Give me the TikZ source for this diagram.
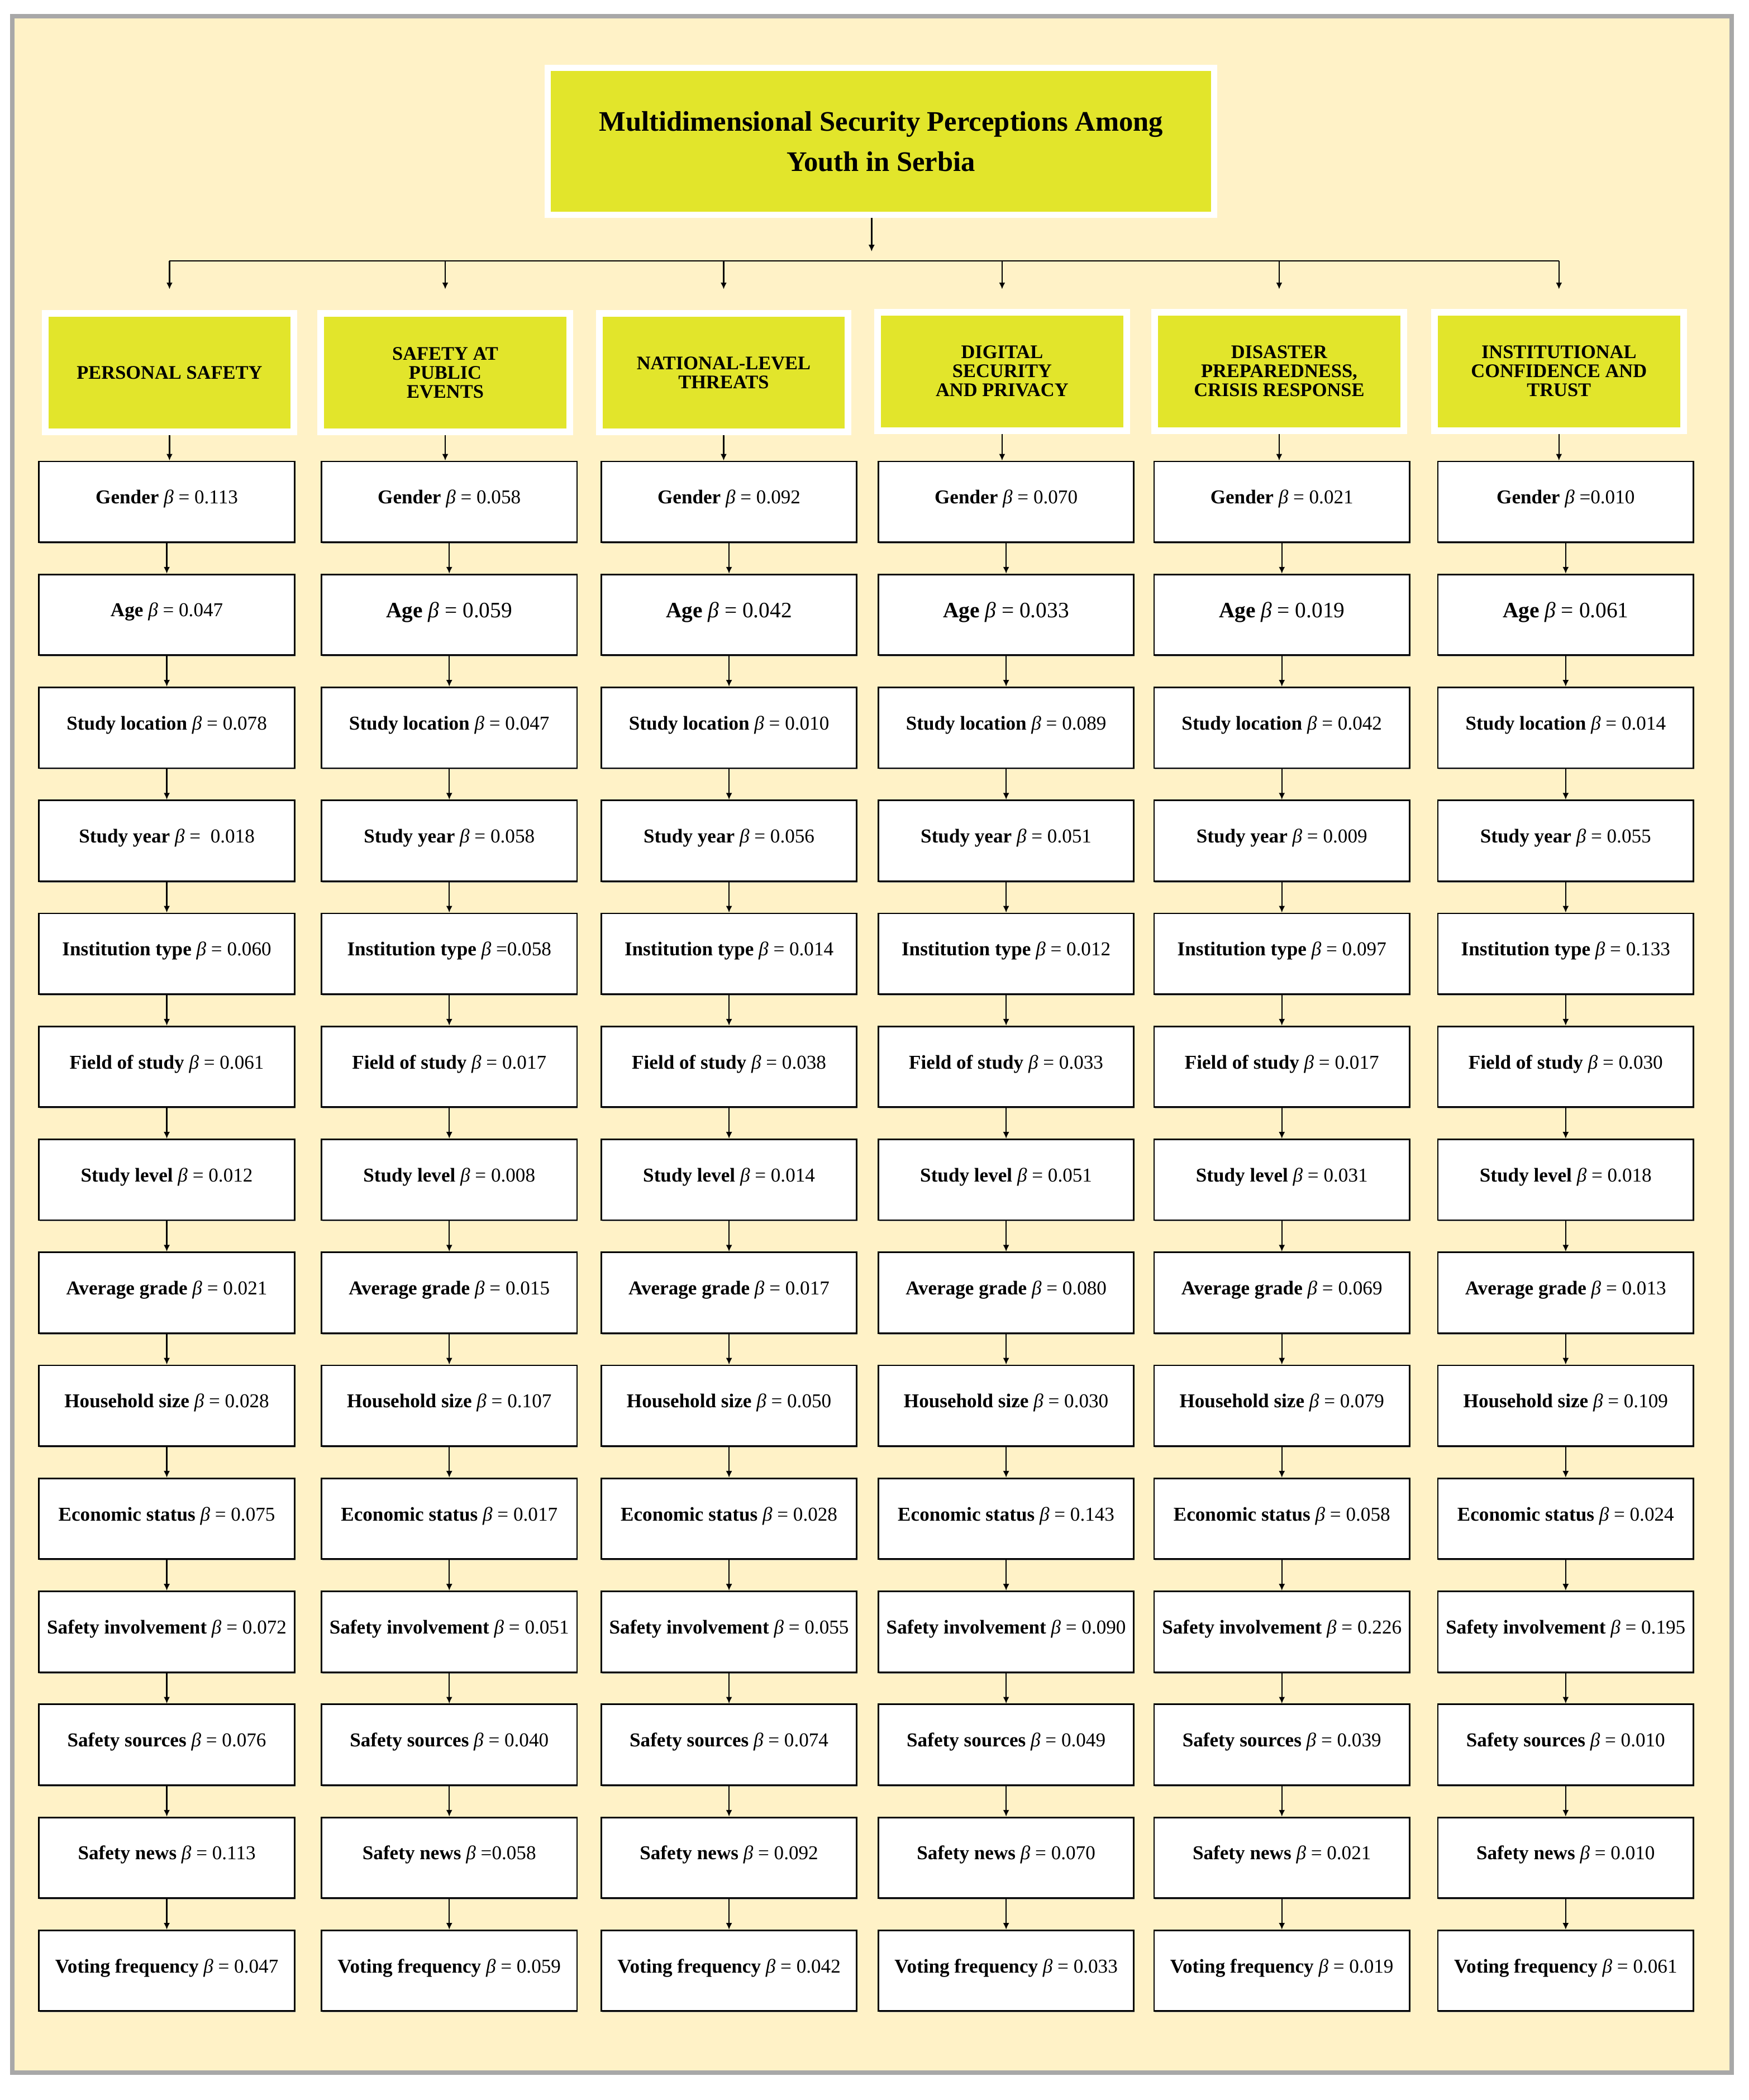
\documentclass[tikz,border=0pt]{standalone}
\usepackage{fontspec}
\setmainfont{Liberation Serif}
\usetikzlibrary{arrows.meta,shadows}
\definecolor{cream}{RGB}{255,242,199}
\definecolor{lime}{RGB}{226,229,43}
\definecolor{framegray}{RGB}{168,168,168}
\newcommand{\bv}[2]{\textbf{#1} \textit{β} #2}
\begin{document}
\begin{tikzpicture}[x=.02408cm, y=-.02408cm,
	arr/.style={-{Latex[length=3.4pt,width=3.2pt]}, line width=.7pt},
	factor/.style={draw=black, line width=.8pt, fill=white, minimum width=4.575cm, minimum height=1.445cm, inner sep=0pt,
		text height=7pt, text depth=5pt,
		font=\fontsize{10}{12}\selectfont, drop shadow={shadow xshift=.4pt, shadow yshift=-.7pt, fill=black!40, opacity=1}},
	bigger/.style={font=\fontsize{11.2}{13}\selectfont, text height=8pt},
	dimbox/.style={draw=white, line width=3.4pt, fill=lime, minimum width=4.455cm, minimum height=2.119cm, inner sep=0pt,
		align=center, font=\fontsize{9.8}{9.7}\selectfont\bfseries},
	titlebox/.style={draw=white, line width=3.1pt, fill=lime, minimum width=11.93cm, minimum height=2.625cm, inner sep=0pt,
		align=center, font=\fontsize{14.4}{20.5}\selectfont\bfseries}]
	\useasboundingbox (0,0) rectangle (1300.25,1561.1);
	\draw[framegray, line width=2.2pt, fill=cream] (9,12) rectangle (1287.4,1540.7);

	% title and the six dimensions
	\node[titlebox] (title) at (655,105) {Multidimensional Security Perceptions Among\\Youth in Serbia};
	\coordinate (bus) at (648,194);
	\coordinate (top) at (0,215);
	\node[dimbox] (ps) at (126,277) {PERSONAL SAFETY};
	\node[dimbox] (pe) at (331,277) {SAFETY AT\\PUBLIC\\EVENTS};
	\node[dimbox] (nt) at (538,277) {NATIONAL-LEVEL\\THREATS};
	\node[dimbox] (ds) at (745,276) {DIGITAL\\SECURITY\\AND PRIVACY};
	\node[dimbox] (dp) at (951,276) {DISASTER\\PREPAREDNESS,\\CRISIS RESPONSE};
	\node[dimbox] (ic) at (1159,276) {INSTITUTIONAL\\CONFIDENCE AND\\TRUST};

	% personal safety
	\node[factor] (ps1)  at (124,373)  {\bv{Gender}{= 0.113}};
	\node[factor] (ps2)  at (124,457)  {\bv{Age}{= 0.047}};
	\node[factor] (ps3)  at (124,541)  {\bv{Study location}{= 0.078}};
	\node[factor] (ps4)  at (124,625)  {\bv{Study year}{= ~0.018}};
	\node[factor] (ps5)  at (124,709)  {\bv{Institution type}{= 0.060}};
	\node[factor] (ps6)  at (124,793)  {\bv{Field of study}{= 0.061}};
	\node[factor] (ps7)  at (124,877)  {\bv{Study level}{= 0.012}};
	\node[factor] (ps8)  at (124,961)  {\bv{Average grade}{= 0.021}};
	\node[factor] (ps9)  at (124,1045) {\bv{Household size}{= 0.028}};
	\node[factor] (ps10) at (124,1129) {\bv{Economic status}{= 0.075}};
	\node[factor] (ps11) at (124,1213) {\bv{Safety involvement}{= 0.072}};
	\node[factor] (ps12) at (124,1297) {\bv{Safety sources}{= 0.076}};
	\node[factor] (ps13) at (124,1381) {\bv{Safety news}{= 0.113}};
	\node[factor] (ps14) at (124,1465) {\bv{Voting frequency}{= 0.047}};

	% safety at public events
	\node[factor] (pe1)  at (334,373)  {\bv{Gender}{= 0.058}};
	\node[factor, bigger] (pe2)  at (334,457)  {\bv{Age}{= 0.059}};
	\node[factor] (pe3)  at (334,541)  {\bv{Study location}{= 0.047}};
	\node[factor] (pe4)  at (334,625)  {\bv{Study year}{= 0.058}};
	\node[factor] (pe5)  at (334,709)  {\bv{Institution type}{=0.058}};
	\node[factor] (pe6)  at (334,793)  {\bv{Field of study}{= 0.017}};
	\node[factor] (pe7)  at (334,877)  {\bv{Study level}{= 0.008}};
	\node[factor] (pe8)  at (334,961)  {\bv{Average grade}{= 0.015}};
	\node[factor] (pe9)  at (334,1045) {\bv{Household size}{= 0.107}};
	\node[factor] (pe10) at (334,1129) {\bv{Economic status}{= 0.017}};
	\node[factor] (pe11) at (334,1213) {\bv{Safety involvement}{= 0.051}};
	\node[factor] (pe12) at (334,1297) {\bv{Safety sources}{= 0.040}};
	\node[factor] (pe13) at (334,1381) {\bv{Safety news}{=0.058}};
	\node[factor] (pe14) at (334,1465) {\bv{Voting frequency}{= 0.059}};

	% national-level threats
	\node[factor] (nt1)  at (542,373)  {\bv{Gender}{= 0.092}};
	\node[factor, bigger] (nt2)  at (542,457)  {\bv{Age}{= 0.042}};
	\node[factor] (nt3)  at (542,541)  {\bv{Study location}{= 0.010}};
	\node[factor] (nt4)  at (542,625)  {\bv{Study year}{= 0.056}};
	\node[factor] (nt5)  at (542,709)  {\bv{Institution type}{= 0.014}};
	\node[factor] (nt6)  at (542,793)  {\bv{Field of study}{= 0.038}};
	\node[factor] (nt7)  at (542,877)  {\bv{Study level}{= 0.014}};
	\node[factor] (nt8)  at (542,961)  {\bv{Average grade}{= 0.017}};
	\node[factor] (nt9)  at (542,1045) {\bv{Household size}{= 0.050}};
	\node[factor] (nt10) at (542,1129) {\bv{Economic status}{= 0.028}};
	\node[factor] (nt11) at (542,1213) {\bv{Safety involvement}{= 0.055}};
	\node[factor] (nt12) at (542,1297) {\bv{Safety sources}{= 0.074}};
	\node[factor] (nt13) at (542,1381) {\bv{Safety news}{= 0.092}};
	\node[factor] (nt14) at (542,1465) {\bv{Voting frequency}{= 0.042}};

	% digital security and privacy
	\node[factor] (ds1)  at (748,373)  {\bv{Gender}{= 0.070}};
	\node[factor, bigger] (ds2)  at (748,457)  {\bv{Age}{= 0.033}};
	\node[factor] (ds3)  at (748,541)  {\bv{Study location}{= 0.089}};
	\node[factor] (ds4)  at (748,625)  {\bv{Study year}{= 0.051}};
	\node[factor] (ds5)  at (748,709)  {\bv{Institution type}{= 0.012}};
	\node[factor] (ds6)  at (748,793)  {\bv{Field of study}{= 0.033}};
	\node[factor] (ds7)  at (748,877)  {\bv{Study level}{= 0.051}};
	\node[factor] (ds8)  at (748,961)  {\bv{Average grade}{= 0.080}};
	\node[factor] (ds9)  at (748,1045) {\bv{Household size}{= 0.030}};
	\node[factor] (ds10) at (748,1129) {\bv{Economic status}{= 0.143}};
	\node[factor] (ds11) at (748,1213) {\bv{Safety involvement}{= 0.090}};
	\node[factor] (ds12) at (748,1297) {\bv{Safety sources}{= 0.049}};
	\node[factor] (ds13) at (748,1381) {\bv{Safety news}{= 0.070}};
	\node[factor] (ds14) at (748,1465) {\bv{Voting frequency}{= 0.033}};

	% disaster preparedness
	\node[factor] (dp1)  at (953,373)  {\bv{Gender}{= 0.021}};
	\node[factor, bigger] (dp2)  at (953,457)  {\bv{Age}{= 0.019}};
	\node[factor] (dp3)  at (953,541)  {\bv{Study location}{= 0.042}};
	\node[factor] (dp4)  at (953,625)  {\bv{Study year}{= 0.009}};
	\node[factor] (dp5)  at (953,709)  {\bv{Institution type}{= 0.097}};
	\node[factor] (dp6)  at (953,793)  {\bv{Field of study}{= 0.017}};
	\node[factor] (dp7)  at (953,877)  {\bv{Study level}{= 0.031}};
	\node[factor] (dp8)  at (953,961)  {\bv{Average grade}{= 0.069}};
	\node[factor] (dp9)  at (953,1045) {\bv{Household size}{= 0.079}};
	\node[factor] (dp10) at (953,1129) {\bv{Economic status}{= 0.058}};
	\node[factor] (dp11) at (953,1213) {\bv{Safety involvement}{= 0.226}};
	\node[factor] (dp12) at (953,1297) {\bv{Safety sources}{= 0.039}};
	\node[factor] (dp13) at (953,1381) {\bv{Safety news}{= 0.021}};
	\node[factor] (dp14) at (953,1465) {\bv{Voting frequency}{= 0.019}};

	% institutional confidence
	\node[factor] (ic1)  at (1164,373)  {\bv{Gender}{=0.010}};
	\node[factor, bigger] (ic2)  at (1164,457)  {\bv{Age}{= 0.061}};
	\node[factor] (ic3)  at (1164,541)  {\bv{Study location}{= 0.014}};
	\node[factor] (ic4)  at (1164,625)  {\bv{Study year}{= 0.055}};
	\node[factor] (ic5)  at (1164,709)  {\bv{Institution type}{= 0.133}};
	\node[factor] (ic6)  at (1164,793)  {\bv{Field of study}{= 0.030}};
	\node[factor] (ic7)  at (1164,877)  {\bv{Study level}{= 0.018}};
	\node[factor] (ic8)  at (1164,961)  {\bv{Average grade}{= 0.013}};
	\node[factor] (ic9)  at (1164,1045) {\bv{Household size}{= 0.109}};
	\node[factor] (ic10) at (1164,1129) {\bv{Economic status}{= 0.024}};
	\node[factor] (ic11) at (1164,1213) {\bv{Safety involvement}{= 0.195}};
	\node[factor] (ic12) at (1164,1297) {\bv{Safety sources}{= 0.010}};
	\node[factor] (ic13) at (1164,1381) {\bv{Safety news}{= 0.010}};
	\node[factor] (ic14) at (1164,1465) {\bv{Voting frequency}{= 0.061}};

	% connectors
	\draw[arr, shorten >=.17cm] (title.south -| bus) -- (bus);
	\draw[line width=.7pt] (ps |- bus) -- (ic |- bus);
	\foreach \grp in {ps,pe,nt,ds,dp,ic} {
		\draw[arr] (\grp |- bus) -- (\grp |- top);
		\draw[arr] (\grp) -- (\grp |- \grp1.north);
		\foreach \i [count=\j from 2] in {1,...,13}
			\draw[arr] (\grp\i) -- (\grp\i |- \grp\j.north);
	}
\end{tikzpicture}
\end{document}
